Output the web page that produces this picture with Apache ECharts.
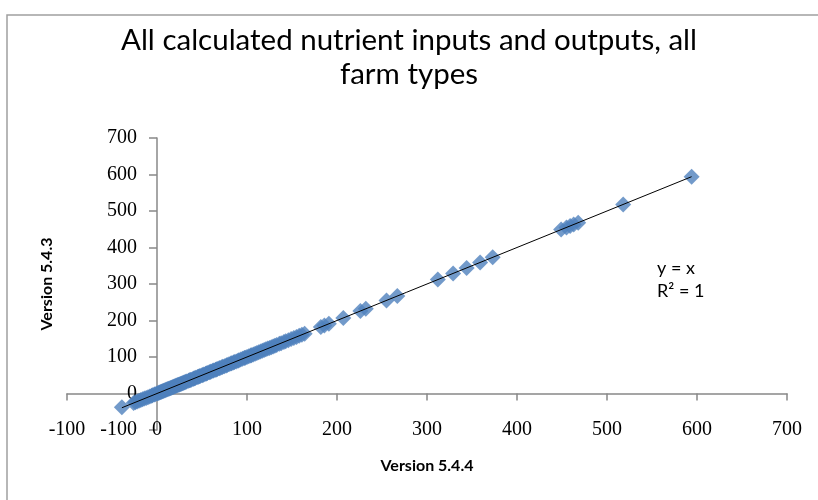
<!DOCTYPE html>
<html>
<head>
<meta charset="utf-8">
<script src="https://cdn.jsdelivr.net/npm/echarts@6/dist/echarts.min.js"></script>
<style>
html,body{margin:0;padding:0;background:#fff;}
#c{width:818px;height:500px;}
</style>
</head>
<body>
<div id="c"></div>
<script>
// Version 5.4.4 (x) and Version 5.4.3 (y) values
var v544 = [-39, -26, -24, -22, -20, -18, -16, -14, -12, -10, -8, -6, -5, -3, -2, 0, 1, 2, 3, 4, 5, 6, 7, 8, 9, 10, 11, 12, 13, 14, 15, 16, 17, 18, 19, 20, 21, 22, 23, 24, 25, 26, 27, 28, 29, 30, 31, 32, 33, 35, 36, 37, 38, 40, 41, 42, 43, 45, 46, 47, 48, 50, 51, 52, 54, 55, 56, 58, 59, 60, 62, 63, 65, 66, 67, 69, 70, 72, 73, 75, 77, 78, 80, 82, 83, 85, 86, 88, 90, 91, 93, 95, 97, 98, 100, 102, 104, 105, 107, 109, 111, 113, 115, 117, 119, 121, 123, 125, 127, 129, 131, 133, 136, 138, 141, 143, 146, 149, 152, 155, 158, 161, 164, 182, 186, 191, 207, 226, 232, 255, 267, 312, 329, 344, 359, 373, 449, 455, 459, 463, 468, 518, 594];
var v543 = [-38, -26, -24, -22, -20, -18, -16, -14, -12, -10, -8, -6, -5, -3, -2, 0, 1, 2, 3, 4, 5, 6, 7, 8, 9, 10, 11, 12, 13, 14, 15, 16, 17, 18, 19, 20, 21, 22, 23, 24, 25, 26, 27, 28, 29, 30, 31, 32, 33, 35, 36, 37, 38, 40, 41, 42, 43, 45, 46, 47, 48, 50, 51, 52, 54, 55, 56, 58, 59, 60, 62, 63, 65, 66, 67, 69, 70, 72, 73, 75, 77, 78, 80, 82, 83, 85, 86, 88, 90, 91, 93, 95, 97, 98, 100, 102, 104, 105, 107, 109, 111, 113, 115, 117, 119, 121, 123, 125, 127, 129, 131, 133, 136, 138, 141, 143, 146, 149, 152, 155, 158, 161, 164, 182, 186, 191, 207, 226, 232, 255, 267, 312, 329, 344, 359, 373, 449, 455, 459, 463, 468, 518, 594];
var xTicks = [-100, 0, 100, 200, 300, 400, 500, 600, 700];
var yTicks = [-100, 0, 100, 200, 300, 400, 500, 600, 700];
var titleText = 'All calculated nutrient inputs and outputs, all\nfarm types';
var xName = 'Version 5.4.4';
var yName = 'Version 5.4.3';
var trendText = 'y = x\nR\u00B2 = 1';

var pts = v544.map(function (x, i) { return [x, v543[i]]; });
var xmin = Math.min.apply(null, v544), xmax = Math.max.apply(null, v544);
var trend = [[xmin, xmin], [xmax, xmax]];

var chart = echarts.init(document.getElementById('c'));
var labelFont = { fontFamily: 'Liberation Serif', fontSize: 20, color: '#000' };
chart.setOption({
  backgroundColor: '#fff',
  animation: false,
  title: {
    text: titleText,
    left: 'center',
    top: 18,
    textStyle: { fontFamily: 'Lato', fontWeight: 'normal', fontSize: 29.5, color: '#000', lineHeight: 34 }
  },
  graphic: [
    { type: 'rect', shape: { x: 7, y: 15, width: 830, height: 520 }, style: { fill: 'none', stroke: '#a0a0a0', lineWidth: 1.5 }, silent: true },
    { type: 'text', left: 657, top: 257, style: { text: trendText, fontFamily: 'Lato', fontSize: 18, lineHeight: 23, fill: '#000', align: 'center' } }
  ],
  grid: { left: 67, right: 31, top: 138, bottom: 70, containLabel: false, outerBoundsMode: 'none' },
  xAxis: {
    type: 'value', min: xTicks[0], max: xTicks[xTicks.length - 1], interval: 100,
    name: xName, nameLocation: 'middle', nameGap: 28,
    nameTextStyle: { fontFamily: 'Lato', fontWeight: 'bold', fontSize: 16, color: '#000' },
    axisLine: { onZero: true, lineStyle: { color: '#888', width: 1.5 } },
    axisTick: { show: true, length: 7, lineStyle: { color: '#888', width: 1.5 } },
    axisLabel: Object.assign({ margin: 0, verticalAlign: 'middle' }, labelFont),
    splitLine: { show: false }
  },
  yAxis: {
    type: 'value', min: yTicks[0], max: yTicks[yTicks.length - 1], interval: 100,
    name: yName, nameLocation: 'middle', nameGap: 12,
    nameTextStyle: { fontFamily: 'Lato', fontWeight: 'bold', fontSize: 16, color: '#000' },
    axisLine: { onZero: true, lineStyle: { color: '#888', width: 1.5 } },
    axisTick: { show: true, length: 8, lineStyle: { color: '#888', width: 1.5 } },
    axisLabel: Object.assign({ inside: true, margin: 70, align: 'right' }, labelFont),
    splitLine: { show: false }
  },
  series: [
    {
      type: 'scatter', data: pts, symbol: 'diamond', symbolSize: 16,
      itemStyle: { color: '#4F81BD' }, z: 2
    },
    {
      type: 'line', data: trend, symbol: 'none', z: 3,
      lineStyle: { color: '#000', width: 1 }
    }
  ]
});
</script>
</body>
</html>
